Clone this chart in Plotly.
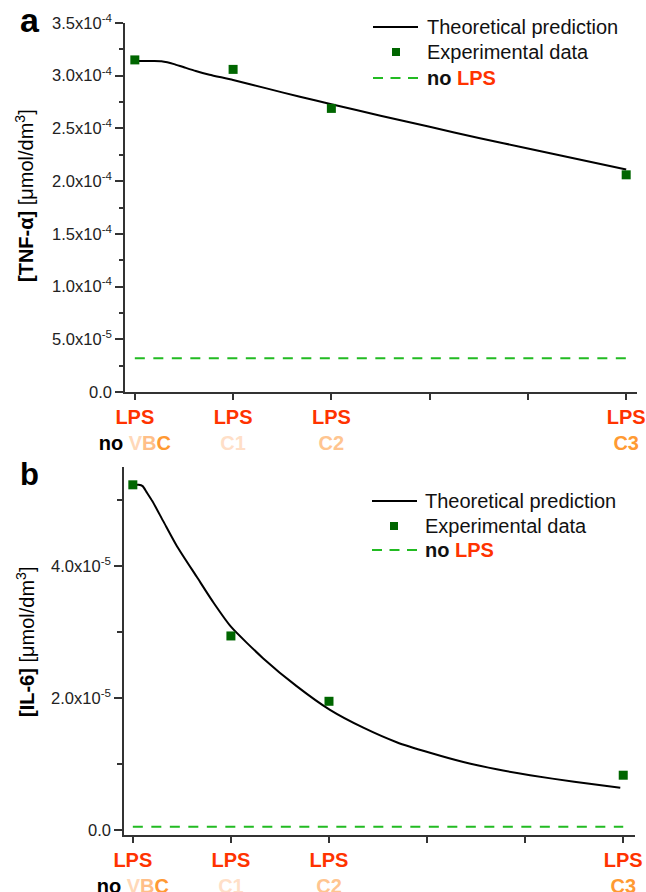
import plotly.graph_objects as go

# ---------------- data ----------------
cats_x = [0, 1, 2, 3, 4, 5]

# Panel a: TNF-alpha
a_exp_x = [0, 1, 2, 5]
a_exp_y = [3.15e-4, 3.06e-4, 2.69e-4, 2.06e-4]
a_th_x = [0, 0.1, 0.2, 0.27, 0.33, 0.4, 0.5, 0.62, 0.76, 1.0, 1.34, 1.68, 2.0, 2.5, 3.0, 3.5, 4.0, 4.5, 5.0]
a_th_y = [3.14e-4, 3.14e-4, 3.14e-4, 3.138e-4, 3.128e-4, 3.11e-4, 3.08e-4, 3.045e-4, 3.01e-4, 2.96e-4,
          2.88e-4, 2.80e-4, 2.73e-4, 2.62e-4, 2.515e-4, 2.41e-4, 2.31e-4, 2.21e-4, 2.11e-4]
a_nolps_x = [0, 5]
a_nolps_y = [3.2e-5, 3.2e-5]

# Panel b: IL-6
b_exp_x = [0, 1, 2, 5]
b_exp_y = [5.23e-5, 2.94e-5, 1.95e-5, 0.83e-5]
b_th_x = [0, 0.06, 0.10, 0.14, 0.2, 0.31, 0.45, 0.65, 0.82, 1.0, 1.33, 1.67, 2.01, 2.35, 2.69, 3.03,
          3.37, 3.71, 4.05, 4.5, 4.97]
b_th_y = [5.23e-5, 5.23e-5, 5.21e-5, 5.12e-5, 4.98e-5, 4.68e-5, 4.30e-5, 3.84e-5, 3.45e-5, 3.08e-5,
          2.60e-5, 2.18e-5, 1.82e-5, 1.55e-5, 1.33e-5, 1.17e-5, 1.03e-5, 0.92e-5, 0.83e-5, 0.73e-5, 0.64e-5]
b_nolps_x = [0, 5]
b_nolps_y = [0.05e-5, 0.05e-5]

# tick labels
RED = "#ff3300"
x_ticktext = [
    f"<b><span style='color:{RED}'>LPS</span><br>no <span style='color:#ffd8b8'>V</span>"
    f"<span style='color:#ffbf88'>B</span><span style='color:#ff9933'>C</span></b>",
    f"<b><span style='color:{RED}'>LPS</span><br><span style='color:#ffdfc8'>C1</span></b>",
    f"<b><span style='color:{RED}'>LPS</span><br><span style='color:#ffc590'>C2</span></b>",
    "",
    "",
    f"<b><span style='color:{RED}'>LPS</span><br><span style='color:#ff9a33'>C3</span></b>",
]
a_yvals = [0, 0.5e-4, 1.0e-4, 1.5e-4, 2.0e-4, 2.5e-4, 3.0e-4, 3.5e-4]
a_ytext = ["0.0", "5.0x10<sup>-5</sup>", "1.0x10<sup>-4</sup>", "1.5x10<sup>-4</sup>",
           "2.0x10<sup>-4</sup>", "2.5x10<sup>-4</sup>", "3.0x10<sup>-4</sup>", "3.5x10<sup>-4</sup>"]
b_yvals = [0, 2.0e-5, 4.0e-5]
b_ytext = ["0.0", "2.0x10<sup>-5</sup>", "4.0x10<sup>-5</sup>"]

# ---------------- figure ----------------
W, H = 646, 892
FONT = "Arial, Liberation Sans, sans-serif"
AX = "#333333"
GREEN_M = "#006600"
GREEN_D = "#22bb22"

def px(x):
    return x / W

def py(y):
    return 1 - y / H

fig = go.Figure()

for (ex, ey, tx, ty, nx, ny, xa, ya) in [
    (a_exp_x, a_exp_y, a_th_x, a_th_y, a_nolps_x, a_nolps_y, "x", "y"),
    (b_exp_x, b_exp_y, b_th_x, b_th_y, b_nolps_x, b_nolps_y, "x2", "y2"),
]:
    fig.add_trace(go.Scatter(x=nx, y=ny, mode="lines", xaxis=xa, yaxis=ya,
                             line=dict(color=GREEN_D, width=2, dash="10px,8.5px"), showlegend=False))
    fig.add_trace(go.Scatter(x=tx, y=ty, mode="lines", xaxis=xa, yaxis=ya,
                             line=dict(color="black", width=2, shape="spline", smoothing=0.6),
                             showlegend=False))
    fig.add_trace(go.Scatter(x=ex, y=ey, mode="markers", xaxis=xa, yaxis=ya,
                             marker=dict(symbol="square", size=9, color=GREEN_M,
                                         line=dict(width=0)), showlegend=False))

common_x = dict(
    tickmode="array", tickvals=cats_x, ticktext=x_ticktext, automargin=False,
    showline=True, linecolor=AX, linewidth=1.5, ticks="outside", ticklen=6,
    tickwidth=1.5, tickcolor=AX, showgrid=False, zeroline=False,
    ticklabeloverflow="allow",
    tickfont=dict(family=FONT, size=20, color="black"),
)
common_y = dict(
    tickmode="array", showline=True, linecolor=AX, linewidth=1.5, ticks="outside",
    ticklen=8, tickwidth=1.5, tickcolor=AX, showgrid=False, zeroline=False, automargin=False,
    tickfont=dict(family=FONT, size=16.5, color="#222222"),
)

fig.update_layout(
    width=W, height=H, margin=dict(l=0, r=0, t=0, b=0, autoexpand=False),
    paper_bgcolor="white", plot_bgcolor="white", showlegend=False,
    xaxis=dict(domain=[px(125), px(637)], range=[-0.10, 5.11], anchor="y", **common_x),
    yaxis=dict(domain=[py(392), py(23)], range=[0, 3.5e-4], anchor="x",
               tickvals=a_yvals, ticktext=a_ytext,
               minor=dict(tickmode="linear", tick0=0, dtick=0.25e-4, ticks="outside",
                          ticklen=4, tickwidth=1.5, tickcolor=AX),
               **common_y),
    xaxis2=dict(domain=[px(124), px(635)], range=[-0.09, 5.12], anchor="y2", **common_x),
    yaxis2=dict(domain=[py(835), py(467)], range=[-0.076e-5, 5.5e-5], anchor="x2",
                tickvals=b_yvals, ticktext=b_ytext,
                minor=dict(tickmode="linear", tick0=0, dtick=1e-5, ticks="outside",
                           ticklen=5, tickwidth=1.5, tickcolor=AX),
                **common_y),
)

ann = []
shapes = []
# panel letters
ann.append(dict(x=px(30), y=py(33), xref="paper", yref="paper", text="<b>a</b>",
                showarrow=False, xanchor="center", yanchor="bottom",
                font=dict(family=FONT, size=34, color="black"), yshift=-8))
ann.append(dict(x=px(29), y=py(487), xref="paper", yref="paper", text="<b>b</b>",
                showarrow=False, xanchor="center", yanchor="bottom",
                font=dict(family=FONT, size=31, color="black"), yshift=-7))
# y titles
ann.append(dict(x=px(25), y=py(196), xref="paper", yref="paper",
                text="<b>[TNF-α]</b> [μmol/dm<sup>3</sup>]", textangle=-90, showarrow=False,
                xanchor="center", yanchor="middle", font=dict(family=FONT, size=20, color="black")))
ann.append(dict(x=px(25), y=py(642), xref="paper", yref="paper",
                text="<b>[IL-6]</b> [μmol/dm<sup>3</sup>]", textangle=-90, showarrow=False,
                xanchor="center", yanchor="middle", font=dict(family=FONT, size=20, color="black")))

# legends
for (lx0, lx1, sqx, tx, y1, y2, y3) in [(373, 418, 396, 425, 27, 52, 78),
                                         (372, 417, 394, 423, 501, 526, 550)]:
    shapes.append(dict(type="line", xref="paper", yref="paper", x0=px(lx0), x1=px(lx1),
                       y0=py(y1), y1=py(y1), line=dict(color="black", width=2)))
    shapes.append(dict(type="rect", xref="paper", yref="paper", x0=px(sqx - 4), x1=px(sqx + 4),
                       y0=py(y2 + 4), y1=py(y2 - 4), fillcolor=GREEN_M, line=dict(width=0)))
    shapes.append(dict(type="line", xref="paper", yref="paper", x0=px(lx0), x1=px(lx1),
                       y0=py(y3), y1=py(y3), line=dict(color=GREEN_D, width=2, dash="10px,7.5px")))
    for (yy, t) in [(y1, "Theoretical prediction"), (y2, "Experimental data"),
                    (y3, f"<b>no <span style='color:{RED}'>LPS</span></b>")]:
        ann.append(dict(x=px(tx), y=py(yy), xref="paper", yref="paper", text=t, showarrow=False,
                        xanchor="left", yanchor="middle",
                        font=dict(family=FONT, size=20, color="#111111")))

fig.update_layout(annotations=ann, shapes=shapes)
fig.write_html("out.html", config={"displayModeBar": False},
               post_script="document.body.style.margin='0px';document.body.style.overflow='hidden';")
